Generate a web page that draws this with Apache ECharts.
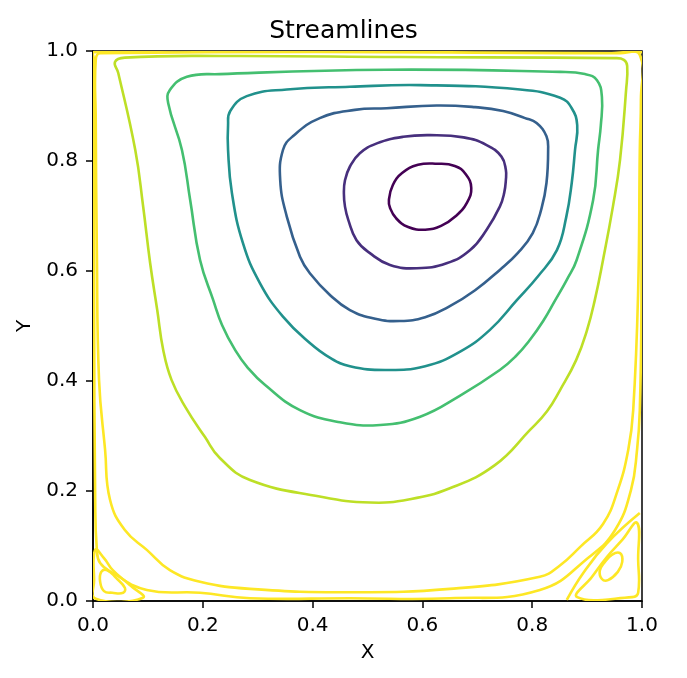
<!DOCTYPE html>
<html>
<head>
<meta charset="utf-8">
<script src="https://cdn.jsdelivr.net/npm/echarts@6/dist/echarts.min.js"></script>
<style>html,body{margin:0;padding:0;background:#fff}#chart{width:687px;height:678px}</style>
</head>
<body>
<div id="chart"></div>
<script>
// Streamline contours, [x, y] in data units
const level1 = [[0.539,0.729],[0.546,0.756],[0.563,0.778],[0.592,0.793],[0.627,0.795],[0.659,0.791],[0.679,0.776],[0.689,0.751],[0.681,0.724],[0.661,0.700],[0.634,0.682],[0.605,0.675],[0.574,0.680],[0.552,0.696],[0.541,0.715],[0.539,0.729]];
const level2 = [[0.457,0.741],[0.459,0.765],[0.468,0.790],[0.486,0.814],[0.517,0.832],[0.565,0.844],[0.614,0.847],[0.675,0.843],[0.717,0.829],[0.744,0.808],[0.752,0.784],[0.752,0.765],[0.749,0.742],[0.741,0.717],[0.717,0.675],[0.687,0.638],[0.644,0.614],[0.590,0.605],[0.541,0.611],[0.505,0.632],[0.480,0.656],[0.465,0.693],[0.459,0.717],[0.457,0.741]];
const level3 = [[0.364,0.845],[0.413,0.878],[0.477,0.893],[0.535,0.896],[0.626,0.901],[0.696,0.898],[0.747,0.891],[0.787,0.878],[0.808,0.869],[0.826,0.845],[0.829,0.820],[0.826,0.760],[0.817,0.714],[0.801,0.669],[0.774,0.633],[0.741,0.602],[0.696,0.565],[0.650,0.536],[0.605,0.516],[0.559,0.509],[0.514,0.513],[0.468,0.529],[0.432,0.556],[0.395,0.596],[0.377,0.626],[0.353,0.699],[0.341,0.765],[0.346,0.820],[0.364,0.845]];
const level4 = [[0.250,0.891],[0.280,0.918],[0.353,0.930],[0.468,0.935],[0.596,0.938],[0.778,0.930],[0.851,0.915],[0.872,0.896],[0.882,0.865],[0.878,0.820],[0.872,0.760],[0.862,0.698],[0.845,0.638],[0.811,0.591],[0.772,0.547],[0.723,0.493],[0.668,0.453],[0.605,0.427],[0.532,0.420],[0.468,0.427],[0.432,0.442],[0.395,0.469],[0.346,0.517],[0.304,0.578],[0.273,0.651],[0.253,0.742],[0.246,0.820],[0.246,0.865],[0.250,0.891]];
const level5 = [[0.231,0.958],[0.535,0.966],[0.851,0.962],[0.896,0.958],[0.918,0.947],[0.927,0.916],[0.925,0.865],[0.920,0.820],[0.911,0.729],[0.881,0.620],[0.863,0.584],[0.842,0.547],[0.820,0.509],[0.796,0.475],[0.770,0.445],[0.741,0.420],[0.668,0.373],[0.596,0.335],[0.523,0.320],[0.450,0.325],[0.377,0.347],[0.313,0.393],[0.282,0.424],[0.259,0.456],[0.235,0.502],[0.219,0.547],[0.195,0.620],[0.177,0.729],[0.162,0.820],[0.137,0.905],[0.140,0.929],[0.171,0.953],[0.231,0.958]];
const level6 = [[0.040,0.980],[0.058,0.988],[0.244,0.991],[0.559,0.989],[0.951,0.987],[0.967,0.984],[0.973,0.973],[0.971,0.929],[0.960,0.802],[0.947,0.717],[0.929,0.620],[0.914,0.547],[0.900,0.493],[0.880,0.438],[0.851,0.384],[0.827,0.345],[0.796,0.311],[0.732,0.247],[0.650,0.205],[0.577,0.185],[0.505,0.179],[0.413,0.190],[0.286,0.220],[0.231,0.260],[0.204,0.298],[0.168,0.353],[0.143,0.402],[0.128,0.456],[0.117,0.529],[0.104,0.615],[0.091,0.720],[0.077,0.820],[0.046,0.960],[0.040,0.980]];
const wallInner = [[0.005,0.984],[0.005,0.875],[0.007,0.638],[0.011,0.402],[0.022,0.275],[0.031,0.184],[0.058,0.129],[0.098,0.093],[0.140,0.056],[0.195,0.035],[0.286,0.022],[0.468,0.016],[0.650,0.022],[0.814,0.044],[0.851,0.065],[0.887,0.098],[0.929,0.140],[0.956,0.202],[0.975,0.275],[0.984,0.347],[0.993,0.565],[0.996,0.820],[0.998,0.911],[0.996,0.993],[0.960,0.996],[0.013,0.996],[0.005,0.984]];
const wallOuter = [[0.002,0.984],[0.002,0.547],[0.004,0.184],[0.007,0.093],[0.013,0.069],[0.036,0.051],[0.098,0.020],[0.195,0.015],[0.286,0.005],[0.468,0.005],[0.650,0.005],[0.814,0.020],[0.905,0.081],[0.951,0.129],[0.980,0.202],[0.991,0.275],[0.996,0.347],[0.999,0.547],[0.999,0.911],[0.998,0.998],[0.002,0.998],[0.002,0.984]];
const eddyLeftOuter = [[0.004,0.093],[0.020,0.078],[0.036,0.056],[0.067,0.029],[0.091,0.006],[0.005,0.004],[0.002,0.038],[0.004,0.093]];
const eddyLeftInner = [[0.015,0.053],[0.026,0.056],[0.042,0.042],[0.058,0.024],[0.055,0.015],[0.035,0.015],[0.020,0.018],[0.013,0.035],[0.015,0.053]];
const eddyRightLine = [[0.996,0.160],[0.936,0.105],[0.893,0.051],[0.863,0.002]];
const eddyRightOuter = [[0.991,0.142],[0.993,0.075],[0.993,0.015],[0.982,0.007],[0.882,0.007],[0.909,0.044],[0.936,0.080],[0.964,0.111],[0.991,0.142]];
const eddyRightInner = [[0.960,0.087],[0.945,0.084],[0.931,0.069],[0.923,0.055],[0.927,0.040],[0.938,0.038],[0.956,0.053],[0.964,0.071],[0.960,0.087]];

const contours = [
  {name: 'level1', data: level1, color: '#440154'},
  {name: 'level2', data: level2, color: '#472f7d'},
  {name: 'level3', data: level3, color: '#35608d'},
  {name: 'level4', data: level4, color: '#21918c'},
  {name: 'level5', data: level5, color: '#44bf70'},
  {name: 'level6', data: level6, color: '#bddf26'},
  {name: 'wallInner', data: wallInner, color: '#fde725'},
  {name: 'wallOuter', data: wallOuter, color: '#fde725'},
  {name: 'eddyLeftOuter', data: eddyLeftOuter, color: '#fde725'},
  {name: 'eddyLeftInner', data: eddyLeftInner, color: '#fde725'},
  {name: 'eddyRightLine', data: eddyRightLine, color: '#fde725'},
  {name: 'eddyRightOuter', data: eddyRightOuter, color: '#fde725'},
  {name: 'eddyRightInner', data: eddyRightInner, color: '#fde725'}
];

const chart = echarts.init(document.getElementById('chart'));
const font = 'DejaVu Sans';
const axisCommon = {
  type: 'value', min: 0, max: 1, interval: 0.2,
  axisLine: {show: true, lineStyle: {color: '#000', width: 1.5}},
  axisTick: {show: true, inside: false, length: 7, lineStyle: {color: '#000', width: 1.5}},
  axisLabel: {color: '#000', fontSize: 20, fontFamily: font, margin: 15, formatter: v => v.toFixed(1)},
  splitLine: {show: false},
  nameLocation: 'middle',
  nameTextStyle: {color: '#000', fontSize: 20, fontFamily: font}
};

function makeRender(color) {
  return function (params, api) {
    if (params.dataIndexInside !== 0) return null;
    const n = params.dataInsideLength;
    const pts = [];
    for (let i = 0; i < n; i++) pts.push(api.coord([api.value(0, i), api.value(1, i)]));
    const first = pts[0], last = pts[pts.length - 1];
    const closed = pts.length > 2 && Math.abs(first[0] - last[0]) < 0.01 && Math.abs(first[1] - last[1]) < 0.01;
    if (closed) pts.pop();
    return {
      type: closed ? 'polygon' : 'polyline',
      shape: {points: pts, smooth: 0.45},
      style: {fill: 'none', stroke: color, lineWidth: 2.6},
      silent: true
    };
  };
}

chart.setOption({
  animation: false,
  backgroundColor: '#fff',
  title: {text: 'Streamlines', left: 'center', top: 19, padding: 0, textStyle: {fontFamily: font, fontSize: 25, fontWeight: 'normal', color: '#000'}},
  grid: {left: 93, right: 45, top: 51, bottom: 77, show: true, borderColor: '#000', borderWidth: 1.5, backgroundColor: 'transparent'},
  xAxis: Object.assign({}, axisCommon, {name: 'X', nameGap: 42}),
  yAxis: Object.assign({}, axisCommon, {name: 'Y', nameGap: 56}),
  series: contours.map(c => ({
    type: 'custom', name: c.name, coordinateSystem: 'cartesian2d',
    data: c.data, encode: {x: 0, y: 1}, clip: true, silent: true,
    renderItem: makeRender(c.color)
  }))
});
</script>
</body>
</html>
